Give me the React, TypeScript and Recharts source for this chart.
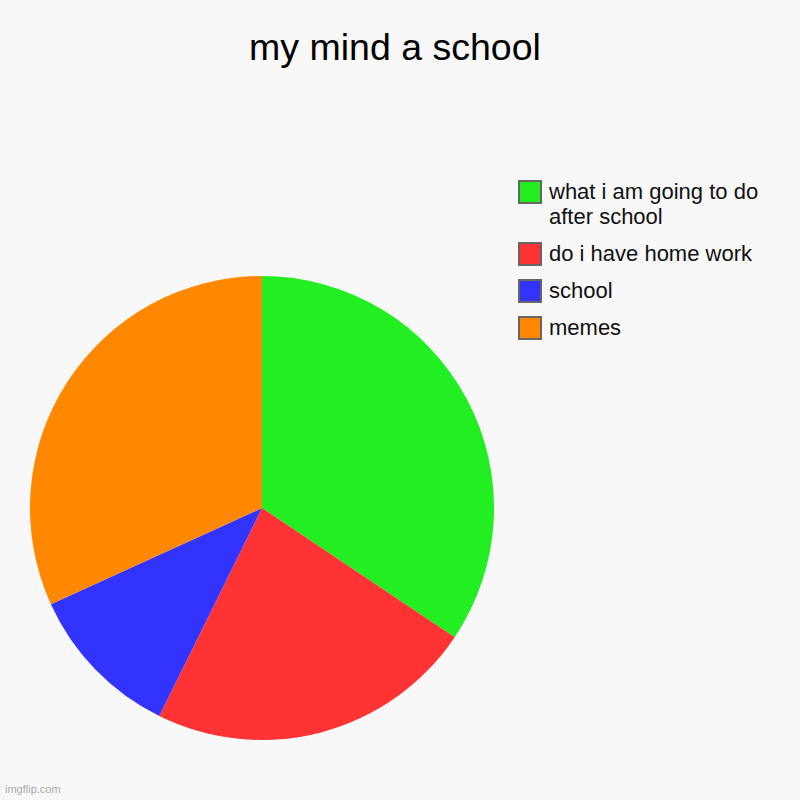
import { PieChart, Pie, Cell } from "recharts";

const labels = ["what i am going to do after school", "do i have home work", "school", "memes"];
const values = [34.4, 22.9, 10.9, 31.8];
const colors = ["#22ee22", "#ff3333", "#3333ff", "#ff8800"];

const data = labels.map((name, i) => ({ name, value: values[i] }));

const font = '"Liberation Sans", Arial, sans-serif';

function LegendList() {
  return (
    <div
      style={{
        position: "absolute",
        left: 518,
        top: 180,
        fontFamily: font,
        fontSize: 22,
        color: "#111",
      }}
    >
      {labels.map((label, i) => (
        <div key={label} style={{ display: "flex", alignItems: "flex-start", marginBottom: 13 }}>
          <div
            style={{
              width: 20,
              height: 20,
              background: colors[i],
              border: "2px solid #666",
              flexShrink: 0,
              marginRight: 7,
            }}
          />
          <div style={{ lineHeight: "25px", marginTop: -1, width: 225 }}>{label}</div>
        </div>
      ))}
    </div>
  );
}

export default function App() {
  return (
    <div style={{ position: "relative", width: 800, height: 800, background: "#f8f8f8" }}>
      <style>{"body{margin:0}"}</style>
      <div
        style={{
          position: "absolute",
          top: 26,
          left: 0,
          width: 790,
          textAlign: "center",
          fontFamily: font,
          fontSize: 37.5,
          color: "#000",
        }}
      >
        my mind a school
      </div>
      <PieChart width={800} height={800} margin={{ top: 0, right: 0, bottom: 0, left: 0 }}>
        <Pie
          data={data}
          dataKey="value"
          nameKey="name"
          cx={262}
          cy={508}
          outerRadius={232}
          startAngle={90}
          endAngle={-270}
          stroke="none"
          isAnimationActive={false}
        >
          {data.map((d, i) => (
            <Cell key={d.name} fill={colors[i]} />
          ))}
        </Pie>
      </PieChart>
      <LegendList />
      <div
        style={{
          position: "absolute",
          left: 5,
          top: 783,
          fontFamily: font,
          fontSize: 11,
          color: "#aaa",
        }}
      >
        imgflip.com
      </div>
    </div>
  );
}
